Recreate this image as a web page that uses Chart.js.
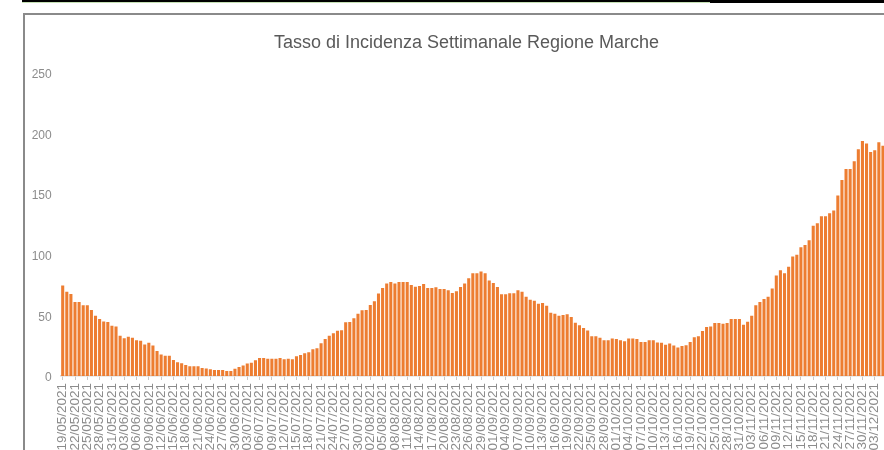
<!DOCTYPE html>
<html>
<head>
<meta charset="utf-8">
<script src="https://cdn.jsdelivr.net/npm/chart.js"></script>
<style>
html, body { margin: 0; padding: 0; overflow: hidden; background: #fff; width: 884px; height: 450px; }
#topbar { position: absolute; left: 22px; top: 0; width: 862px; height: 3px; background: #000; }
#topgreen { position: absolute; left: 22px; top: 2px; width: 688px; height: 1px; background: #c5e0b4; }
#frame { position: absolute; left: 23px; top: 13px; width: 1000px; height: 600px; border-left: 2px solid #8a8a8a; border-top: 2px solid #8a8a8a; }
#myChart { position: absolute; left: 0; top: 0; }
</style>
</head>
<body>
<div id="topbar"></div>
<div id="topgreen"></div>
<div id="frame"><canvas id="myChart" width="883" height="470"></canvas></div>
<script>
// dati (tasso settimanale, dal 19/05/2021)
const firstDay = [2021, 4, 19];
const incidence = [
    74.5, 69.5, 67.6, 61, 61, 58.2, 58.2, 54.4, 49.7, 46.9,
    45, 44.4, 41.4, 40.8, 33.1, 31.2, 32.3, 31.5, 29.5, 29,
    25.9, 27.3, 25.1, 20.7, 17.7, 16.6, 16.6, 13.2, 11.3, 10.5,
    9.1, 8, 8, 8, 6.6, 6.1, 5.5, 5, 5, 5,
    4.1, 4.1, 6, 7.5, 8.6, 10.2, 11, 12.9, 14.9, 14.9,
    14.3, 14.3, 14.3, 14.9, 13.8, 14.3, 13.8, 16.3, 17.4, 18.8,
    19.6, 22.1, 22.9, 27, 30.4, 33.1, 35.3, 37.3, 37.8, 44.2,
    44.4, 47.5, 51.3, 54.1, 54.4, 58.5, 61.5, 67.9, 72.6, 76.2,
    77.5, 76.2, 77.5, 77.5, 77.5, 75, 73.6, 74.2, 75.8, 72.6,
    72.6, 73.1, 71.7, 71.7, 70.6, 68.4, 69.8, 73.4, 76.2, 80.5,
    84.7, 84.7, 86.1, 84.7, 78.6, 76.7, 73.4, 67.3, 67.3, 68.2,
    68.2, 70.6, 69.5, 65.4, 62.9, 62.1, 59.6, 60.2, 57.9, 52.2,
    51.3, 49.7, 50.2, 50.8, 48.6, 43.9, 41.9, 39.5, 37.5, 32.8,
    32.8, 31.5, 29.5, 29.5, 30.9, 30.4, 29.5, 28.7, 30.9, 30.9,
    30.4, 28.1, 28.1, 29.5, 29.5, 27.6, 27.3, 25.7, 26.8, 25.1,
    23.5, 24.8, 25.4, 28.1, 32, 32.8, 37, 40.3, 40.8, 43.6,
    43.6, 43, 43.6, 46.9, 46.9, 46.9, 42.2, 44.7, 49.7, 58.2,
    61, 63.5, 65.4, 72, 82.8, 87.2, 84.7, 90, 98.5, 99.9,
    106, 107.9, 111.8, 123.9, 125.8, 131.6, 131.6, 134.1, 136.3, 148.7,
    161.4, 170.5, 170.5, 176.9, 186.8, 193.7, 191.5, 184.6, 186, 192.6,
    189.8
];
const yTicks = [0, 50, 100, 150, 200, 250];
const labelEvery = 3;
const chartTitle = 'Tasso di Incidenza Settimanale Regione Marche';

function pad(n) {
    return n < 10 ? '0' + n : '' + n;
}
const days = incidence.map(function(v, i) {
    const d = new Date(firstDay[0], firstDay[1], firstDay[2] + i);
    return pad(d.getDate()) + '/' + pad(d.getMonth() + 1) + '/' + d.getFullYear();
});

const fontFamily = '"Liberation Sans", Arial, sans-serif';

var ctx = document.getElementById('myChart').getContext('2d');
var chart = new Chart(ctx, {
    type: 'bar',
    data: {
        labels: days,
        datasets: [{
            label: chartTitle,
            backgroundColor: '#ED7D31',
            borderWidth: 0,
            data: incidence,
            barPercentage: 0.75,
            categoryPercentage: 1
        }]
    },
    options: {
        responsive: false,
        animation: false,
        devicePixelRatio: 1,
        plugins: {
            legend: { display: false },
            tooltip: { enabled: false },
            title: {
                display: true,
                text: chartTitle,
                color: '#595959',
                font: { family: fontFamily, size: 18, weight: 'normal' },
                padding: { top: 17, bottom: 19 }
            }
        },
        scales: {
            x: {
                grid: {
                    offset: false,
                    drawOnChartArea: false,
                    drawTicks: true,
                    tickLength: 4,
                    color: function(c) {
                        return c.index % labelEvery === 0 ? '#c8c8c8' : 'rgba(0,0,0,0)';
                    }
                },
                border: { color: '#d9d9d9', width: 1.5 },
                ticks: {
                    autoSkip: false,
                    minRotation: 90,
                    maxRotation: 90,
                    padding: 3,
                    color: '#8c8c8c',
                    font: { family: fontFamily, size: 13.5 },
                    callback: function(v, i) {
                        return i % labelEvery === 0 ? this.getLabelForValue(v) : '';
                    }
                },
                afterFit: function(s) { s.height = 109; }
            },
            y: {
                min: yTicks[0],
                max: yTicks[yTicks.length - 1],
                grid: { display: false, drawTicks: false },
                border: { display: false },
                ticks: {
                    stepSize: 50,
                    padding: 9,
                    labelOffset: 2,
                    color: '#8c8c8c',
                    font: { family: fontFamily, size: 12 }
                },
                afterFit: function(s) { s.width = 35.65; }
            },
            // spazio vuoto a destra (il grafico originale è tagliato)
            yRight: {
                position: 'right',
                grid: { display: false, drawTicks: false },
                border: { display: false },
                ticks: { display: false },
                afterFit: function(s) { s.width = 23; }
            }
        }
    }
});
</script>
</body>
</html>
